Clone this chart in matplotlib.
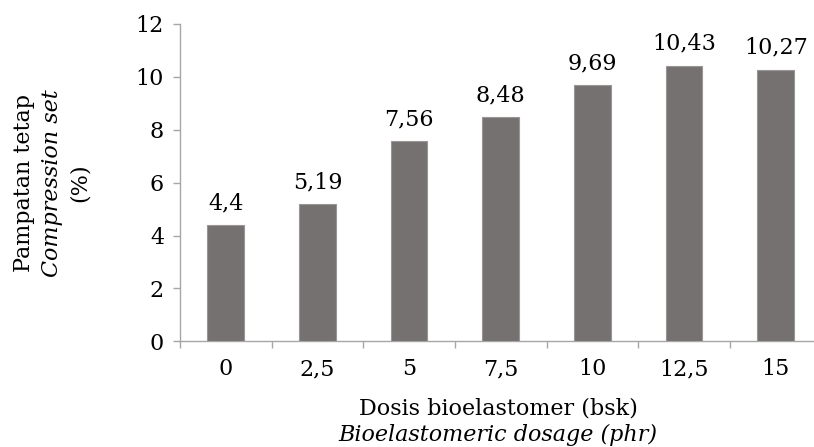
import matplotlib
matplotlib.use("Agg")
import matplotlib.pyplot as plt
import numpy as np

categories = ["0", "2,5", "5", "7,5", "10", "12,5", "15"]
values = [4.4, 5.19, 7.56, 8.48, 9.69, 10.43, 10.27]
value_labels = ["4,4", "5,19", "7,56", "8,48", "9,69", "10,43", "10,27"]
yticks = [0, 2, 4, 6, 8, 10, 12]

plt.rcParams['font.family'] = ['DejaVu Serif']
FS = 16
W, H = 814, 447
fig = plt.figure(figsize=(W / 100, H / 100), dpi=100)
left, right = 180, 821.6
bottom_px, top_px = 341.3, 24
ax = fig.add_axes([left / W, (H - bottom_px) / H, (right - left) / W, (bottom_px - top_px) / H])

x = np.arange(len(categories))
ax.bar(x, values, width=0.4, color="#767171", edgecolor="#9a9696", linewidth=0.8, zorder=3)
ax.set_xlim(-0.5, len(categories) - 0.5)
ax.set_ylim(0, 12)
ax.set_yticks(yticks)
ax.set_yticklabels([str(t) for t in yticks], fontsize=FS)
ax.set_xticks(x)
ax.set_xticklabels(categories, fontsize=FS)
ax.set_xticks(np.arange(-0.5, len(categories), 1.0), minor=True)
ax.tick_params(axis='x', which='major', length=0, pad=12)
ax.tick_params(axis='x', which='minor', length=5, color="#a6a6a6", width=1.0)
ax.tick_params(axis='y', length=5, color="#a6a6a6", width=1.0, pad=6.5)
for s in ["top", "right"]:
    ax.spines[s].set_visible(False)
for s in ["left", "bottom"]:
    ax.spines[s].set_color("#a6a6a6")
    ax.spines[s].set_linewidth(1.0)

for xi, v, lab in zip(x, values, value_labels):
    ax.annotate(lab, (xi, v), xytext=(0, 11.5), textcoords="offset points",
                ha="center", va="baseline", fontsize=FS)

# y label lines
ycen = 1 - 183 / H
fig.text(24 / W, ycen, "Pampatan tetap", rotation=90, ha="center", va="center", fontsize=FS)
fig.text(52 / W, ycen, "Compression set", rotation=90, ha="center", va="center", fontsize=FS, style="italic")
fig.text(80 / W, ycen, "(%)", rotation=90, ha="center", va="center", fontsize=FS)

# x label lines
fig.text(498 / W, 1 - 408 / H, "Dosis bioelastomer (bsk)", ha="center", va="center", fontsize=FS)
fig.text(498 / W, 1 - 435 / H, "Bioelastomeric dosage (phr)", ha="center", va="center", fontsize=FS, style="italic")

fig.savefig("out.png", dpi=100)
